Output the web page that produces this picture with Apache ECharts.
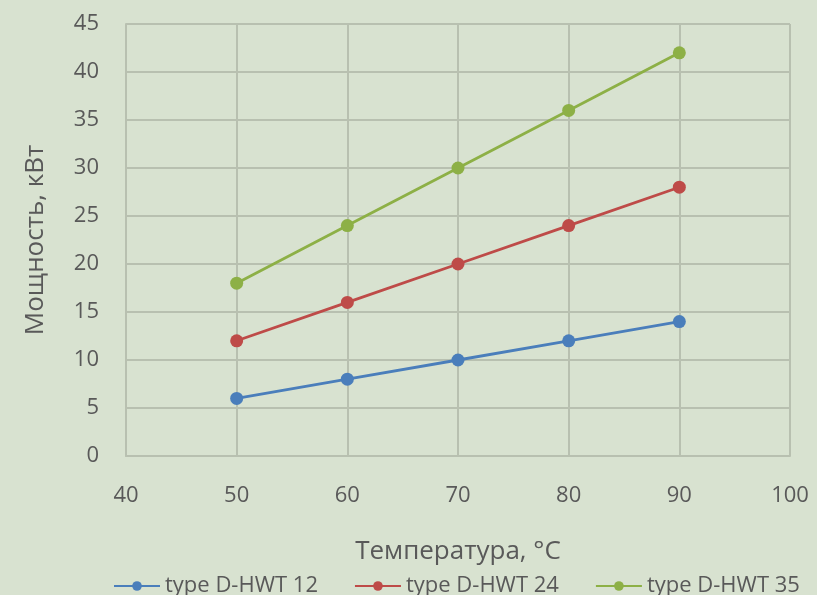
<!DOCTYPE html>
<html><head><meta charset="utf-8">
<script src="https://cdn.jsdelivr.net/npm/echarts@6/dist/echarts.min.js"></script>
<style>html,body{margin:0;padding:0;background:#d8e2d0}#c{width:817px;height:595px}</style>
</head><body><div id="c"></div>
<script>
const temps = [50, 60, 70, 80, 90];
const seriesNames = ['type D-HWT 12', 'type D-HWT 24', 'type D-HWT 35'];
const hwt12 = [6, 8, 10, 12, 14];
const hwt24 = [12, 16, 20, 24, 28];
const hwt35 = [18, 24, 30, 36, 42];
const colors = ['#4a7ebb', '#be4b48', '#8db046'];
const values = [hwt12, hwt24, hwt35];

const chart = echarts.init(document.getElementById('c'));
const font = '"Open Sans", "Noto Sans", sans-serif';
chart.setOption({
  backgroundColor: '#d8e2d0',
  animation: false,
  textStyle: {fontFamily: font},
  grid: {left: 126, right: 27, top: 24, bottom: 139},
  xAxis: {
    type: 'value', min: 40, max: 100, interval: 10,
    name: 'Температура, °C', nameLocation: 'middle', nameGap: 83,
    nameTextStyle: {fontSize: 26, color: '#595959', fontFamily: font},
    axisLine: {show: true, lineStyle: {color: '#b8c0b0', width: 2}},
    axisTick: {show: false},
    axisLabel: {fontSize: 22, color: '#595959', margin: 29},
    splitLine: {show: true, lineStyle: {color: '#b8c0b0', width: 2}}
  },
  yAxis: {
    type: 'value', min: 0, max: 45, interval: 5,
    name: 'Мощность, кВт', nameLocation: 'middle', nameGap: 77,
    nameTextStyle: {fontSize: 26, color: '#595959', fontFamily: font},
    axisLine: {show: true, lineStyle: {color: '#b8c0b0', width: 2}},
    axisTick: {show: false},
    axisLabel: {fontSize: 22, color: '#595959', margin: 27},
    splitLine: {show: true, lineStyle: {color: '#b8c0b0', width: 2}}
  },
  legend: {
    top: 570, left: 108, itemWidth: 46, itemHeight: 12, itemGap: 36,
    textStyle: {fontSize: 22, color: '#595959', fontFamily: font},
    data: seriesNames
  },
  series: seriesNames.map((n, i) => ({
    name: n, type: 'line', data: temps.map((t, j) => [t, values[i][j]]),
    symbol: 'circle', symbolSize: 13,
    lineStyle: {width: 2.8, color: colors[i]},
    itemStyle: {color: colors[i]}
  }))
});
</script></body></html>
